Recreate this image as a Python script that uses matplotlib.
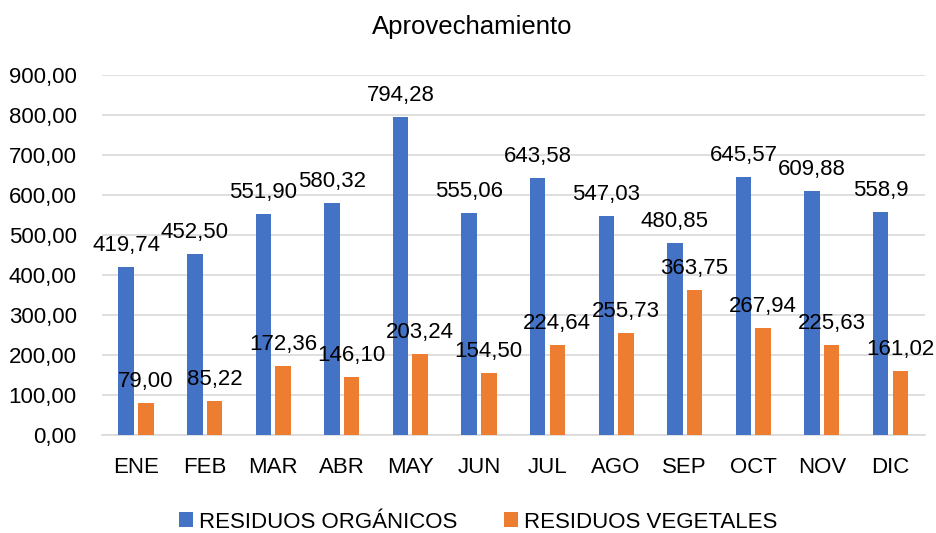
import matplotlib
matplotlib.use("Agg")
import matplotlib.pyplot as plt
from matplotlib.ticker import FuncFormatter
import numpy as np

plt.rcParams['font.family'] = ['Liberation Sans', 'DejaVu Sans']

# data
months = ["ENE", "FEB", "MAR", "ABR", "MAY", "JUN", "JUL", "AGO", "SEP", "OCT", "NOV", "DIC"]
organicos = [419.74, 452.50, 551.90, 580.32, 794.28, 555.06, 643.58, 547.03, 480.85, 645.57, 609.88, 558.9]
vegetales = [79.00, 85.22, 172.36, 146.10, 203.24, 154.50, 224.64, 255.73, 363.75, 267.94, 225.63, 161.02]
organicos_lbl = ["419,74", "452,50", "551,90", "580,32", "794,28", "555,06",
                 "643,58", "547,03", "480,85", "645,57", "609,88", "558,9"]
vegetales_lbl = ["79,00", "85,22", "172,36", "146,10", "203,24", "154,50",
                 "224,64", "255,73", "363,75", "267,94", "225,63", "161,02"]

blue = "#4472C4"
orange = "#ED7D31"
fs = 16

fig = plt.figure(figsize=(9.36, 5.33), dpi=100)
ax = fig.add_axes([0.1087, 0.1839, 0.988 - 0.1087, 0.859 - 0.1839])

x = np.arange(len(months))
w = 0.226
off = 0.143
b1 = ax.bar(x - off, organicos, w, color=blue, label="RESIDUOS ORGÁNICOS", zorder=3)
b2 = ax.bar(x + off, vegetales, w, color=orange, label="RESIDUOS VEGETALES", zorder=3)

for xi, v, s in zip(x, organicos, organicos_lbl):
    ax.annotate(s, (xi - off, v), xytext=(0, 11.5), textcoords="offset points",
                ha="center", va="baseline", fontsize=fs, color="black", zorder=4)
for xi, v, s in zip(x, vegetales, vegetales_lbl):
    ax.annotate(s, (xi + off, v), xytext=(0, 11.5), textcoords="offset points",
                ha="center", va="baseline", fontsize=fs, color="black", zorder=4)

ax.set_xlim(-0.5, 11.5)
ax.set_ylim(0, 900)
ax.set_yticks(np.arange(0, 901, 100))
ax.yaxis.set_major_formatter(FuncFormatter(lambda v, p: f"{v:.2f}".replace(".", ",")))
ax.set_xticks(x)
ax.set_xticklabels(months)
ax.tick_params(axis="both", length=0, labelsize=fs, colors="black")
ax.tick_params(axis="x", pad=15.5)
ax.tick_params(axis="y", pad=18)
ax.grid(axis="y", color="#d9d9d9", linewidth=1.2, zorder=0)
for sp in ["top", "right", "left"]:
    ax.spines[sp].set_visible(False)
ax.spines["bottom"].set_color("#d9d9d9")
ax.spines["bottom"].set_linewidth(1.2)

fig.text(0.505, 0.936, "Aprovechamiento", ha="center", va="baseline", fontsize=18.5)

fig.legend(handles=[b1, b2], loc="center", bbox_to_anchor=(478.5 / 936, 0.0206),
           ncol=2, frameon=False, fontsize=fs, handlelength=0.63, handleheight=0.63,
           handletextpad=0.27, columnspacing=2.1, borderpad=0, borderaxespad=0)

fig.savefig("out.png", dpi=100)
